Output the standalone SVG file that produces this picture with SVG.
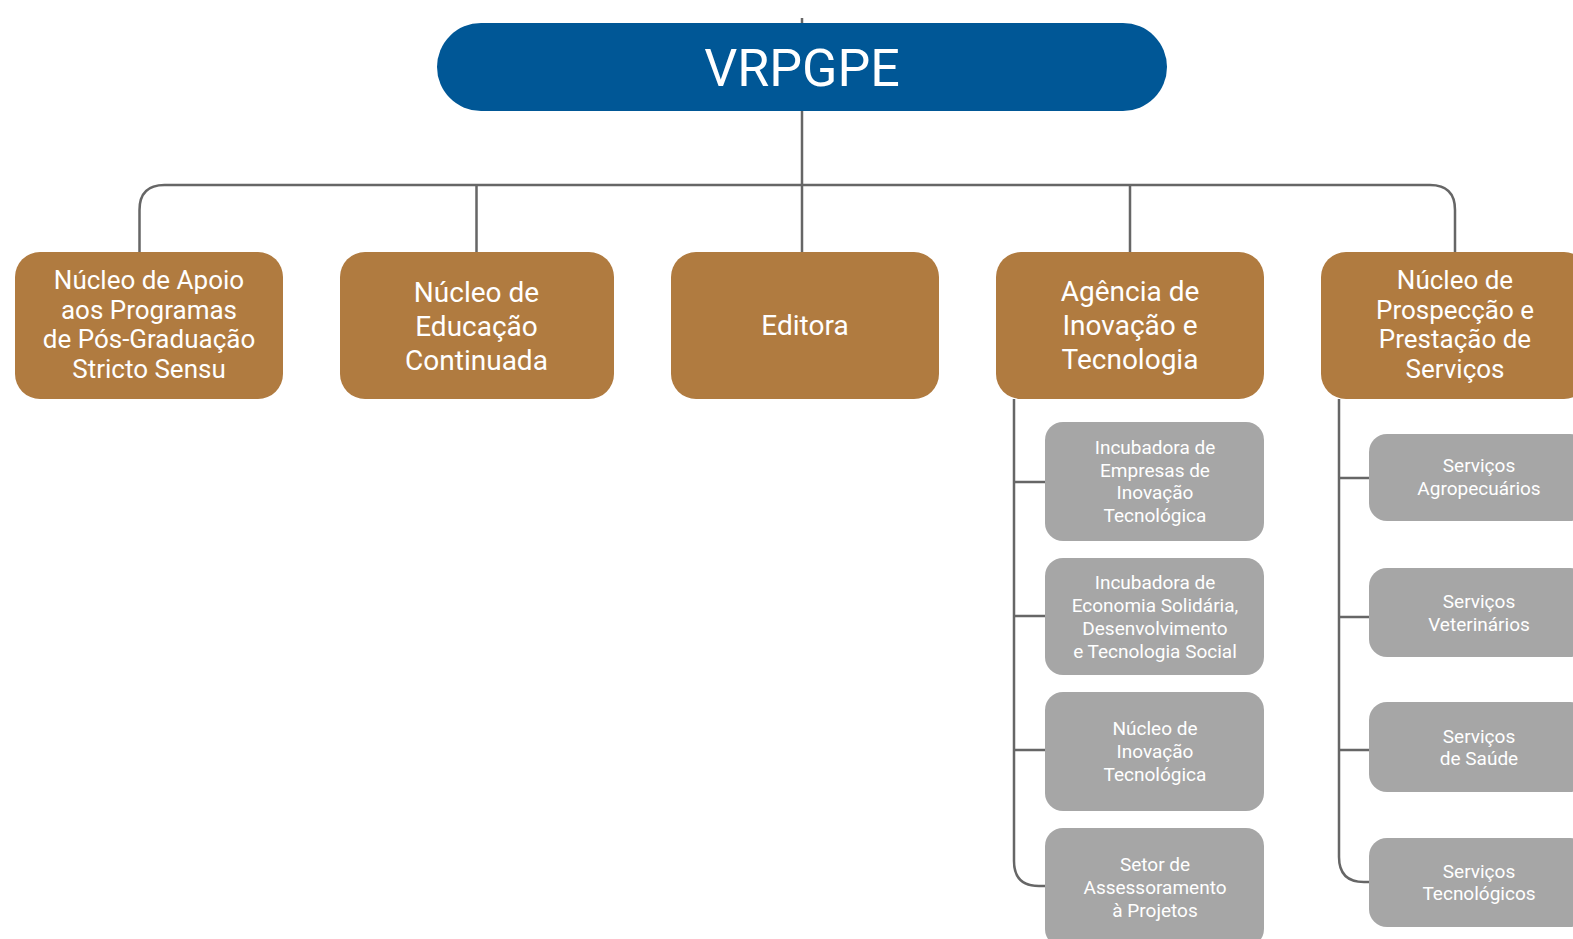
<svg xmlns="http://www.w3.org/2000/svg" width="1573" height="939" viewBox="0 0 1573 939">
<style>
.ln{fill:none;stroke:#666666;stroke-width:2.5}
.root{fill:#005796}
.br{fill:#B07B40}
.gr{fill:#A6A6A6}
text{font-family:Roboto,"Noto Sans",sans-serif;fill:#ffffff;text-anchor:middle}
.t1{font-size:52px}
.t2{font-size:28px}
.t4{font-size:26px}
.t3{font-size:19px}
</style>
<rect width="1573" height="939" fill="#ffffff"/>
<g id="connectors">
<path class="ln" d="M802 18V252"/>
<path class="ln" d="M139.5 252V210Q139.5 185 164.5 185H1430Q1455 185 1455 210V252"/>
<path class="ln" d="M476.5 185V252M1130 185V252"/>
<path class="ln" d="M1014 399V861Q1014 886 1039 886H1045"/>
<path class="ln" d="M1014 482H1045M1014 616H1045M1014 750H1045"/>
<path class="ln" d="M1339 399V857Q1339 882 1364 882H1369"/>
<path class="ln" d="M1339 478H1369M1339 617H1369M1339 750H1369"/>
</g>
<g id="vrpgpe">
<rect class="root" x="437" y="23" width="730" height="88" rx="44"/>
<text class="t1" x="802" y="86">VRPGPE</text>
</g>
<g id="nucleo-apoio">
<rect class="br" x="15" y="252" width="268" height="147" rx="25"/>
<text class="t4"><tspan x="149" y="289">Núcleo de Apoio</tspan><tspan x="149" y="318.5">aos Programas</tspan><tspan x="149" y="348">de Pós-Graduação</tspan><tspan x="149" y="377.5">Stricto Sensu</tspan></text>
</g>
<g id="nucleo-educacao">
<rect class="br" x="340" y="252" width="274" height="147" rx="25"/>
<text class="t2"><tspan x="476.5" y="302">Núcleo de</tspan><tspan x="476.5" y="336">Educação</tspan><tspan x="476.5" y="370">Continuada</tspan></text>
</g>
<g id="editora">
<rect class="br" x="671" y="252" width="268" height="147" rx="25"/>
<text class="t2" x="805" y="335">Editora</text>
</g>
<g id="agencia">
<rect class="br" x="996" y="252" width="268" height="147" rx="25"/>
<text class="t2"><tspan x="1130" y="301">Agência de</tspan><tspan x="1130" y="335">Inovação e</tspan><tspan x="1130" y="369">Tecnologia</tspan></text>
</g>
<g id="nucleo-prospeccao">
<rect class="br" x="1321" y="252" width="268" height="147" rx="25"/>
<text class="t4"><tspan x="1455" y="289">Núcleo de</tspan><tspan x="1455" y="318.5">Prospecção e</tspan><tspan x="1455" y="348">Prestação de</tspan><tspan x="1455" y="377.5">Serviços</tspan></text>
</g>
<g id="incubadora-empresas">
<rect class="gr" x="1045" y="422" width="219" height="119" rx="18"/>
<text class="t3"><tspan x="1155" y="454">Incubadora de</tspan><tspan x="1155" y="477">Empresas de</tspan><tspan x="1155" y="499">Inovação</tspan><tspan x="1155" y="522">Tecnológica</tspan></text>
</g>
<g id="incubadora-economia">
<rect class="gr" x="1045" y="558" width="219" height="117" rx="18"/>
<text class="t3"><tspan x="1155" y="589">Incubadora de</tspan><tspan x="1155" y="612">Economia Solidária,</tspan><tspan x="1155" y="635">Desenvolvimento</tspan><tspan x="1155" y="658">e Tecnologia Social</tspan></text>
</g>
<g id="nucleo-inovacao">
<rect class="gr" x="1045" y="692" width="219" height="119" rx="18"/>
<text class="t3"><tspan x="1155" y="735">Núcleo de</tspan><tspan x="1155" y="758">Inovação</tspan><tspan x="1155" y="781">Tecnológica</tspan></text>
</g>
<g id="setor-assessoramento">
<rect class="gr" x="1045" y="828" width="219" height="119" rx="18"/>
<text class="t3"><tspan x="1155" y="871">Setor de</tspan><tspan x="1155" y="894">Assessoramento</tspan><tspan x="1155" y="917">à Projetos</tspan></text>
</g>
<g id="servicos-agro">
<rect class="gr" x="1369" y="434" width="219" height="87" rx="18"/>
<text class="t3"><tspan x="1479" y="472">Serviços</tspan><tspan x="1479" y="495">Agropecuários</tspan></text>
</g>
<g id="servicos-vet">
<rect class="gr" x="1369" y="568" width="219" height="89" rx="18"/>
<text class="t3"><tspan x="1479" y="608">Serviços</tspan><tspan x="1479" y="631">Veterinários</tspan></text>
</g>
<g id="servicos-saude">
<rect class="gr" x="1369" y="702" width="219" height="90" rx="18"/>
<text class="t3"><tspan x="1479" y="743">Serviços</tspan><tspan x="1479" y="765">de Saúde</tspan></text>
</g>
<g id="servicos-tec">
<rect class="gr" x="1369" y="838" width="219" height="89" rx="18"/>
<text class="t3"><tspan x="1479" y="878">Serviços</tspan><tspan x="1479" y="900">Tecnológicos</tspan></text>
</g>
</svg>
